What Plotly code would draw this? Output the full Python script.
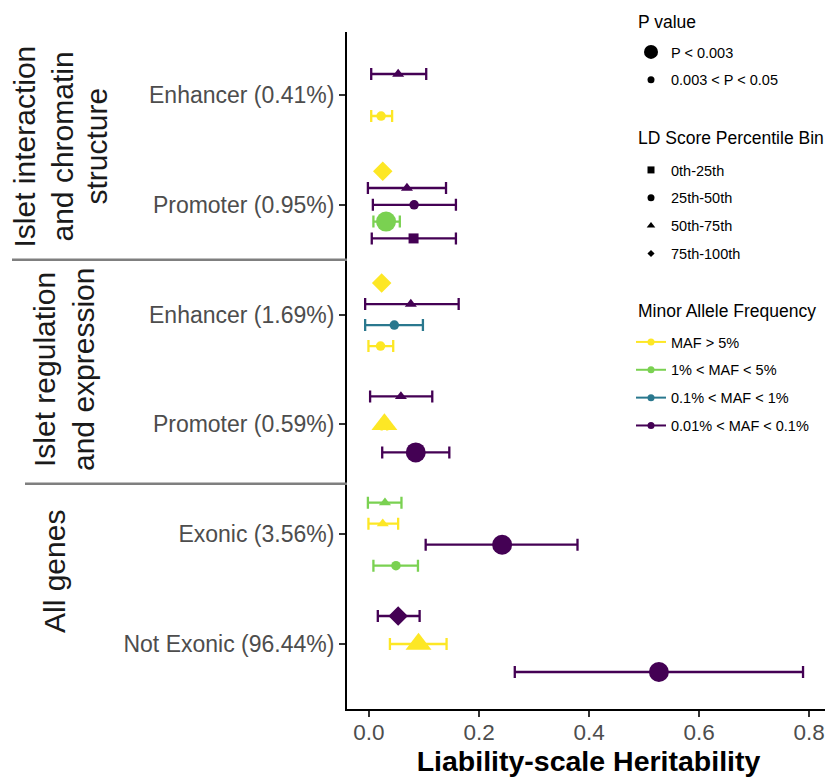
import plotly.graph_objects as go

# ---------------- data ----------------
categories = ["Enhancer (0.41%)", "Promoter (0.95%)", "Enhancer (1.69%)",
              "Promoter (0.59%)", "Exonic (3.56%)", "Not Exonic (96.44%)"]

strip_lines = [["Islet interaction", "and chromatin", "structure"],
               ["Islet regulation", "and expression"],
               ["All genes"]]

maf_levels = ["MAF > 5%", "1% < MAF < 5%", "0.1% < MAF < 1%", "0.01% < MAF < 0.1%"]
ld_levels = ["0th-25th", "25th-50th", "50th-75th", "75th-100th"]
p_levels = ["P < 0.003", "0.003 < P < 0.05"]
legend_titles = ["P value", "LD Score Percentile Bin", "Minor Allele Frequency"]

# points listed top-to-bottom within each category
pt_cat = [0, 0,
          1, 1, 1, 1, 1,
          2, 2, 2, 2,
          3, 3, 3,
          4, 4, 4, 4,
          5, 5, 5]
pt_maf = [3, 0,
          0, 3, 3, 1, 3,
          0, 3, 2, 0,
          3, 0, 3,
          1, 0, 3, 1,
          3, 0, 3]
pt_ld = [2, 1,
         3, 2, 1, 1, 0,
         3, 2, 1, 1,
         2, 2, 1,
         2, 2, 1, 1,
         3, 2, 1]
pt_p = [1, 1,
        0, 1, 1, 0, 1,
        0, 1, 1, 1,
        1, 0, 0,
        1, 1, 0, 1,
        0, 0, 0]
pt_est = [0.053, 0.022,
          0.025, 0.069, 0.082, 0.031, 0.081,
          0.023, 0.076, 0.046, 0.021,
          0.058, 0.028, 0.085,
          0.029, 0.025, 0.242, 0.049,
          0.053, 0.090, 0.527]
pt_lo = [0.004, 0.004,
         0.021, -0.002, 0.007, 0.008, 0.005,
         0.019, -0.007, -0.007, -0.001,
         0.002, 0.023, 0.024,
         -0.002, -0.001, 0.103, 0.008,
         0.016, 0.038, 0.265]
pt_hi = [0.104, 0.042,
         0.029, 0.140, 0.158, 0.056, 0.158,
         0.027, 0.163, 0.098, 0.044,
         0.115, 0.033, 0.146,
         0.059, 0.053, 0.379, 0.089,
         0.092, 0.141, 0.789]

x_ticks = [0.0, 0.2, 0.4, 0.6, 0.8]
x_ticktext = ["0.0", "0.2", "0.4", "0.6", "0.8"]

# ---------------- styles ----------------
maf_colors = ["#FDE725", "#7AD151", "#2A788E", "#440154"]
ld_symbols = ["square", "circle", "triangle-up", "diamond"]
size_map = {("circle", 0): 20, ("circle", 1): 9.5,
            ("triangle-up", 0): 22.5, ("triangle-up", 1): 10.5,
            ("diamond", 0): 15, ("diamond", 1): 8,
            ("square", 0): 16, ("square", 1): 10}
FONT = "Liberation Sans"
DODGE = 0.765

# page body has an 8px margin; lay out in reference-pixel coordinates
OFF = 8
W, H = 833 - OFF, 777 - OFF
PLOT_L, PLOT_R, PLOT_T, PLOT_B = 347, 830, 32, 709
ML = PLOT_L - OFF
MT = PLOT_T - OFF
PW = PLOT_R - PLOT_L
PH = PLOT_B - PLOT_T
MR = W - ML - PW
MB = H - MT - PH

def px_to_paper_x(px):
    return (px - PLOT_L) / PW

def px_to_paper_y(py):
    return 1 - (py - PLOT_T) / PH

ncat = len(categories)
cat_pos = [ncat - i for i in range(ncat)]

fig = go.Figure()

# data traces
counts = {c: pt_cat.count(c) for c in range(ncat)}
seen = {c: 0 for c in range(ncat)}
for i in range(len(pt_est)):
    c = pt_cat[i]
    n = counts[c]
    k = seen[c]
    seen[c] += 1
    y = cat_pos[c] + ((n - 1) / 2 - k) * (DODGE / n)
    col = maf_colors[pt_maf[i]]
    sym = ld_symbols[pt_ld[i]]
    fig.add_trace(go.Scatter(
        x=[pt_est[i]], y=[y], mode="markers",
        marker=dict(color=col, symbol=sym, size=size_map[(sym, pt_p[i])], line=dict(width=0)),
        error_x=dict(type="data", symmetric=False,
                     array=[pt_hi[i] - pt_est[i]], arrayminus=[pt_est[i] - pt_lo[i]],
                     color=col, thickness=2.3, width=6),
        showlegend=False, hoverinfo="skip"))

# legend traces
for j, lab in enumerate(p_levels):
    fig.add_trace(go.Scatter(x=[None], y=[None], mode="markers", name=lab,
                             marker=dict(color="black", symbol="circle", size=[14, 7][j]),
                             legend="legend", legendgroup="p%d" % j))
for j, lab in enumerate(ld_levels):
    fig.add_trace(go.Scatter(x=[None], y=[None], mode="markers", name=lab,
                             marker=dict(color="black", symbol=ld_symbols[j], size=[7, 7, 7.5, 5.5][j]),
                             legend="legend2", legendgroup="ld%d" % j))
for j, lab in enumerate(maf_levels):
    fig.add_trace(go.Scatter(x=[None], y=[None], mode="lines+markers", name=lab,
                             line=dict(color=maf_colors[j], width=2),
                             marker=dict(color=maf_colors[j], symbol="circle", size=7),
                             legend="legend3", legendgroup="maf%d" % j))

def make_legend(top_px):
    return dict(bgcolor="rgba(0,0,0,0)", borderwidth=0, xanchor="left", yanchor="top",
                font=dict(family=FONT, size=14.5, color="black"),
                traceorder="grouped", tracegroupgap=6, itemsizing="trace",
                x=px_to_paper_x(631), y=px_to_paper_y(top_px))

annotations = []
# legend titles
for t, yc in zip(legend_titles, [22, 138, 311]):
    annotations.append(dict(text=t, showarrow=False, xref="paper", yref="paper",
                            x=px_to_paper_x(636), y=px_to_paper_y(yc),
                            xanchor="left", yanchor="middle",
                            font=dict(family=FONT, size=17.5, color="black")))

# strip annotations
strip_centers_y = [146.5, 370, 572]
strip_line_x = [[24, 62, 96], [44, 83], [54]]
for g, lines in enumerate(strip_lines):
    for li, txt in enumerate(lines):
        annotations.append(dict(text=txt, textangle=-90, showarrow=False,
                                xref="paper", yref="paper",
                                x=px_to_paper_x(strip_line_x[g][li]),
                                y=px_to_paper_y(strip_centers_y[g]),
                                xanchor="center", yanchor="middle",
                                font=dict(family=FONT, size=30, color="#1a1a1a")))

# separator lines between groups
sep_y = [4.5, 2.46]
sep_x0 = [12, 25]
shapes = []
for yv, x0 in zip(sep_y, sep_x0):
    shapes.append(dict(type="line", xref="paper", yref="y",
                       x0=px_to_paper_x(x0), x1=0, y0=yv, y1=yv,
                       line=dict(color="#7f7f7f", width=2.5)))

fig.update_layout(
    width=W, height=H,
    margin=dict(l=ML, r=MR, t=MT, b=MB, pad=0, autoexpand=False),
    paper_bgcolor="white", plot_bgcolor="white",
    font=dict(family=FONT, color="#4D4D4D"),
    legend=make_legend(36),
    legend2=make_legend(154),
    legend3=make_legend(326),
    annotations=annotations,
    shapes=shapes,
    xaxis=dict(range=[-0.04, 0.838], tickvals=x_ticks, ticktext=x_ticktext,
               showgrid=False, zeroline=False, showline=True, linecolor="black", linewidth=2,
               ticks="outside", ticklen=6, tickwidth=1.5, tickcolor="#333333",
               ticklabelstandoff=-4, automargin=False,
               tickfont=dict(family=FONT, size=22.5, color="#4D4D4D"),
               title=dict(text="<b>Liability-scale Heritability</b>", standoff=8,
                          font=dict(family=FONT, size=28.5, color="black"))),
    yaxis=dict(range=[0.408, 6.574], tickvals=cat_pos, ticktext=categories,
               showgrid=False, zeroline=False, showline=True, linecolor="black", linewidth=2,
               ticks="outside", ticklen=6, tickwidth=1.5, tickcolor="#333333",
               ticklabelstandoff=0, automargin=False,
               tickfont=dict(family=FONT, size=23, color="#4D4D4D")),
)

fig.write_html("out.html")
